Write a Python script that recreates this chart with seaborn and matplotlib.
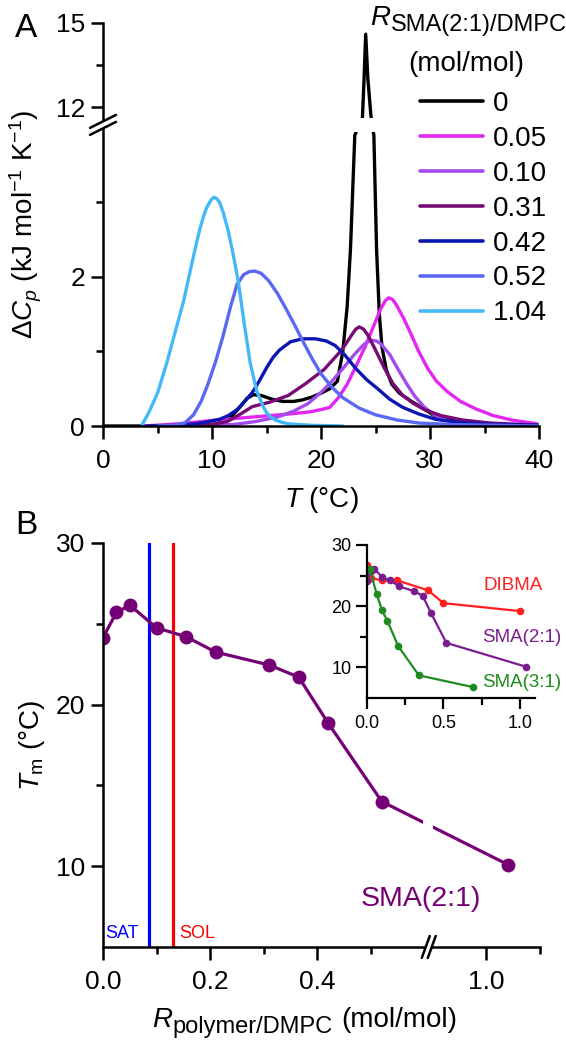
import numpy as np
import matplotlib
matplotlib.use('Agg')
import matplotlib.pyplot as plt
import seaborn as sns
from matplotlib.lines import Line2D
from matplotlib.patches import Polygon
from matplotlib.transforms import IdentityTransform
from matplotlib.ticker import FixedLocator

# Style: plain ticks, black axes, Arial-like font
sns.set_style('ticks', rc={'axes.edgecolor': 'black', 'xtick.color': 'black',
                           'ytick.color': 'black', 'text.color': 'black',
                           'axes.labelcolor': 'black'})
plt.rcParams['font.family'] = ['Liberation Sans', 'DejaVu Sans']
plt.rcParams.update({
    'mathtext.fontset': 'custom',
    'mathtext.rm': 'Liberation Sans',
    'mathtext.it': 'Liberation Sans:italic',
    'mathtext.bf': 'Liberation Sans:bold',
    'mathtext.sf': 'Liberation Sans',
    'lines.solid_joinstyle': 'round',
})

# ---------------- Panel A: DSC thermograms ----------------
dsc_labels = ['0', '0.05', '0.10', '0.31', '0.42', '0.52', '1.04']
dsc_colors = ['#000000', '#e326f2', '#a24cef', '#780a76', '#0a16b2', '#5a68f4', '#45b9f8']

T_r000 = [0, 9.5, 10.7, 11.8, 12.6, 13.2, 13.8, 14.5, 15.5, 16.5, 17.5, 18.3, 19.2, 20.0,
          20.8, 21.5, 22.0, 22.4, 22.7, 23.1, 23.5, 23.8, 23.95, 24.1, 24.3, 24.6, 24.75,
          24.85, 25.1, 25.35, 25.6, 26.0, 26.5, 27.2, 28.2, 29.2, 30.5, 32.5, 35.0, 40.0]
cp_r000 = [0, 0.0, 0.04, 0.13, 0.26, 0.37, 0.42, 0.41, 0.36, 0.33, 0.33, 0.35, 0.39, 0.44,
           0.50, 0.60, 1.0, 1.6, 2.36, 3.9, 8.0, 11.6, 13.0, 14.6, 13.0, 11.6, 6.0,
           3.9, 2.36, 1.5, 1.05, 0.75, 0.56, 0.44, 0.34, 0.25, 0.13, 0.06, 0.02, 0.01]

T_r005 = [3.8, 7.0, 10.4, 13.7, 17.0, 19.0, 20.0, 20.8, 21.6, 22.4, 23.2, 24.0, 24.8, 25.5,
          25.9, 26.2, 26.55, 26.9, 27.6, 28.3, 29.0, 29.8, 30.6, 31.6, 32.8, 34.2, 35.8,
          37.5, 39.8]
cp_r005 = [0.0, 0.03, 0.08, 0.12, 0.16, 0.19, 0.22, 0.25, 0.38, 0.56, 0.80, 1.05, 1.33, 1.58,
           1.68, 1.72, 1.70, 1.63, 1.44, 1.22, 0.99, 0.77, 0.60, 0.46, 0.33, 0.23, 0.14,
           0.08, 0.03]

T_r010 = [5.0, 9.0, 12.0, 14.0, 16.0, 17.5, 18.8, 20.0, 21.0, 22.0, 23.0, 23.9, 24.3, 24.7,
          25.1, 25.5, 26.3, 27.0, 27.8, 28.6, 29.5, 30.5, 31.8, 33.5, 36.0, 40.0]
cp_r010 = [0.0, 0.01, 0.02, 0.06, 0.12, 0.20, 0.30, 0.45, 0.60, 0.77, 0.95, 1.09, 1.13, 1.15,
           1.14, 1.10, 0.96, 0.78, 0.58, 0.40, 0.25, 0.14, 0.06, 0.02, 0.01, 0.0]

T_r031 = [5.0, 9.0, 10.4, 11.4, 12.5, 13.7, 15.3, 17.0, 18.6, 20.3, 21.9, 22.9, 23.2, 23.5,
          23.9, 24.3, 25.0, 25.8, 26.6, 27.5, 28.5, 29.5, 31.0, 33.0, 35.5, 38.5, 40.0]
cp_r031 = [0.0, 0.01, 0.03, 0.06, 0.15, 0.26, 0.32, 0.41, 0.57, 0.76, 1.02, 1.24, 1.30, 1.33,
           1.30, 1.22, 1.02, 0.78, 0.57, 0.41, 0.30, 0.22, 0.14, 0.08, 0.04, 0.02, 0.01]

T_r042 = [4.0, 7.0, 9.0, 10.7, 11.5, 12.3, 13.0, 13.7, 14.4, 15.0, 15.6, 16.2, 17.2, 18.3,
          19.5, 20.5, 21.3, 22.2, 23.2, 24.2, 25.2, 26.3, 27.5, 29.0, 30.5, 33.0, 36.0, 40.0]
cp_r042 = [0.0, 0.01, 0.04, 0.09, 0.14, 0.22, 0.33, 0.45, 0.62, 0.78, 0.92, 1.02, 1.13, 1.17,
           1.17, 1.14, 1.08, 0.95, 0.77, 0.62, 0.50, 0.36, 0.25, 0.16, 0.09, 0.04, 0.02, 0.01]

T_r052 = [5.0, 6.5, 7.5, 8.3, 9.0, 9.6, 10.3, 11.0, 11.7, 12.3, 12.9, 13.4, 13.9, 14.5, 15.2,
          16.0, 16.8, 17.6, 18.4, 19.2, 20.0, 21.0, 22.0, 23.5, 25.0, 27.0, 29.0, 32.0, 36.0, 40.0]
cp_r052 = [0.0, 0.01, 0.04, 0.15, 0.33, 0.55, 0.85, 1.20, 1.60, 1.90, 2.03, 2.07, 2.08, 2.05,
           1.95, 1.78, 1.57, 1.35, 1.12, 0.90, 0.70, 0.52, 0.38, 0.24, 0.15, 0.08, 0.04, 0.02, 0.01, 0.0]

T_r104 = [3.6, 4.2, 5.0, 5.8, 6.6, 7.4, 8.0, 8.6, 8.9, 9.2, 9.45, 9.7, 9.95, 10.2, 10.45,
          10.7, 11.0, 11.45, 11.95, 12.45, 12.95, 13.5, 14.1, 14.7, 15.0, 15.4, 15.8, 16.4,
          17.0, 19.0, 22.0]
cp_r104 = [0.02, 0.18, 0.44, 0.82, 1.25, 1.68, 2.08, 2.47, 2.65, 2.80, 2.91, 2.98, 3.04, 3.07,
           3.05, 3.00, 2.88, 2.64, 2.30, 1.90, 1.38, 0.85, 0.47, 0.26, 0.18, 0.12, 0.08, 0.05,
           0.03, 0.01, 0.0]

dsc_T = [T_r000, T_r005, T_r010, T_r031, T_r042, T_r052, T_r104]
dsc_cp = [cp_r000, cp_r005, cp_r010, cp_r031, cp_r042, cp_r052, cp_r104]

# ---------------- Panel B: transition temperatures ----------------
R_sma21 = [0.0, 0.025, 0.05, 0.10, 0.155, 0.21, 0.31, 0.365, 0.42, 0.52, 1.04]
Tm_sma21 = [24.15, 25.7, 26.15, 24.75, 24.2, 23.25, 22.45, 21.7, 18.85, 14.0, 10.1]

R_dibma = [0.0, 0.03, 0.10, 0.20, 0.40, 0.50, 1.00]
Tm_dibma = [26.8, 24.6, 24.2, 24.2, 22.6, 20.5, 19.2]

R_sma31 = [0.02, 0.065, 0.10, 0.135, 0.205, 0.34, 0.69]
Tm_sma31 = [26.0, 22.0, 19.3, 17.6, 13.5, 8.7, 6.8]

R_sat = 0.086
R_sol = 0.131

FS_TICK = 19
FS_LABEL = 20


def broken_scale(x_in, x_out):
    """Piecewise-linear forward/inverse pair for an axis with a break."""
    def forward(v):
        return np.interp(v, x_in, x_out)

    def inverse(v):
        return np.interp(v, x_out, x_in)
    return forward, inverse


def style_axis(ax, lw=1.8, major=9, minor=5, size=FS_TICK, xpad=7.5, ypad=4):
    sns.despine(ax=ax)
    for s in ['left', 'bottom']:
        ax.spines[s].set_linewidth(lw)
    ax.tick_params(which='major', length=major, width=lw, labelsize=size, direction='out')
    ax.tick_params(which='minor', length=minor, width=lw, direction='out')
    ax.tick_params(axis='x', which='major', pad=xpad)
    ax.tick_params(axis='y', which='major', pad=ypad)


def draw_break(fig, center, half, sep, lw=1.8):
    """Two parallel slanted strokes (display px) with white between them."""
    c = np.asarray(center, float)
    h = np.asarray(half, float)
    s = np.asarray(sep, float) / 2
    poly = Polygon([c - s - h, c - s + h, c + s + h, c + s - h], closed=True,
                   facecolor='white', edgecolor='none', transform=IdentityTransform(),
                   zorder=10)
    fig.add_artist(poly)
    for sign in (-1, 1):
        p0 = c + sign * s - h
        p1 = c + sign * s + h
        fig.add_artist(Line2D([p0[0], p1[0]], [p0[1], p1[1]], color='black', lw=lw,
                              transform=IdentityTransform(), zorder=11))


fig = plt.figure(figsize=(5.66, 10.4), dpi=100)

# ---- Panel A ----
ax_a = fig.add_axes([103 / 566, 1 - 426 / 1040, 436 / 566, 403 / 1040])
fwd_a, inv_a = broken_scale([-50, 3.95, 11.6, 50], [-50, 3.95, 4.13, 4.13 + 38.4 * 0.3758])
ax_a.set_yscale('function', functions=(fwd_a, inv_a))

for T, cp, lab, col in zip(dsc_T, dsc_cp, dsc_labels, dsc_colors):
    sns.lineplot(x=T, y=cp, ax=ax_a, color=col, linewidth=2.4, label=lab,
                 sort=False, estimator=None)

ax_a.set_xlim(0, 40)
ax_a.set_ylim(0, 15)
ax_a.xaxis.set_major_locator(FixedLocator([0, 10, 20, 30, 40]))
ax_a.xaxis.set_minor_locator(FixedLocator([5, 15, 25, 35]))
ax_a.yaxis.set_major_locator(FixedLocator([0, 2, 12, 15]))
ax_a.yaxis.set_minor_locator(FixedLocator([1, 3, 13.5]))
ax_a.yaxis.set_major_formatter(plt.FuncFormatter(lambda v, p: f'{v:g}'))
style_axis(ax_a)
ax_a.set_xlabel(r'$T$ (°C)', fontsize=FS_LABEL, labelpad=9)
ax_a.set_ylabel(r'$\Delta C_p$ (kJ mol$^{-1}$ K$^{-1}$)', fontsize=FS_LABEL, labelpad=8)

# white band hides the curve inside the axis break
ax_a.axhspan(4.0, 11.55, color='white', lw=0, zorder=2.2)

leg = ax_a.legend(loc='upper left', bbox_to_anchor=(420 / 566, 1 - 91 / 1040),
                  bbox_transform=fig.transFigure, frameon=False, fontsize=20,
                  handlelength=2.27, handletextpad=0.36, labelspacing=0.32,
                  borderpad=0, borderaxespad=0)
for h in leg.get_lines():
    h.set_linewidth(2.6)

# legend title built from pieces so the subscript can be large
t_r = fig.text(370 / 566, 1 - 25 / 1040, 'R', fontsize=20, style='italic',
               ha='left', va='baseline')
ax_a.annotate('SMA(2:1)/DMPC', xy=(1, 0), xycoords=t_r, xytext=(0.5, 0),
              textcoords='offset points', fontsize=17, ha='left', va='baseline',
              annotation_clip=False)
fig.text(466 / 566, 1 - 71 / 1040, '(mol/mol)', fontsize=20, ha='center', va='baseline')

fig.text(15 / 566, 1 - 37 / 1040, 'A', fontsize=24, ha='left', va='baseline')

# ---- Panel B ----
ax_b = fig.add_axes([103 / 566, 1 - 947 / 1040, 437 / 566, 404 / 1040])
fwd_b, inv_b = broken_scale([-5, 0.6, 0.9, 5], [-5, 0.6, 0.615, 4.715])
ax_b.set_xscale('function', functions=(fwd_b, inv_b))

ax_b.axvline(R_sat, color='#0000ff', lw=2.3, zorder=1.5)
ax_b.axvline(R_sol, color='#ff0000', lw=2.3, zorder=1.5)
sns.lineplot(x=R_sma21, y=Tm_sma21, ax=ax_b, color='#750075', linewidth=2.3,
             marker='o', markersize=10, markeredgewidth=0, sort=False, estimator=None)

ax_b.set_xlim(0, 1.1)
ax_b.set_ylim(5, 30)
ax_b.xaxis.set_major_locator(FixedLocator([0, 0.2, 0.4, 1.0]))
ax_b.xaxis.set_minor_locator(FixedLocator([0.1, 0.3, 0.5, 1.1]))
ax_b.xaxis.set_major_formatter(plt.FuncFormatter(lambda v, p: f'{v:.1f}'))
ax_b.yaxis.set_major_locator(FixedLocator([10, 20, 30]))
ax_b.yaxis.set_minor_locator(FixedLocator([15, 25]))
style_axis(ax_b)
ax_b.set_ylabel(r'$T_{\mathrm{m}}$ (°C)', fontsize=FS_LABEL, labelpad=6)
ax_b.set_xlabel('')

# gap in the data line across the x break
ax_b.axvspan(0.596, 0.9005, ymin=0.2, ymax=0.4, color='white', lw=0, zorder=2.2)

ax_b.text(0.004, 5.84, 'SAT', color='#0000ff', fontsize=13, ha='left', va='center')
ax_b.text(0.142, 5.84, 'SOL', color='#ff0000', fontsize=13, ha='left', va='center')
ax_b.text(0.481, 7.95, 'SMA(2:1)', color='#750075', fontsize=20.5, ha='left', va='center')

# x label: R with a large subscript
t_rb = fig.text(152 / 566, 1 - 1027 / 1040, 'R', fontsize=20, style='italic',
                ha='left', va='baseline')
t_sub = ax_b.annotate('polymer/DMPC', xy=(1, 0), xycoords=t_rb, xytext=(0.5, 0),
                      textcoords='offset points', fontsize=17, ha='left', va='baseline',
                      annotation_clip=False)
ax_b.annotate('(mol/mol)', xy=(1, 0), xycoords=(t_sub, t_rb), xytext=(6, 4.2),
              textcoords='offset points', fontsize=20, ha='left', va='baseline',
              annotation_clip=False)

fig.text(15 / 566, 1 - 534 / 1040, 'B', fontsize=24, ha='left', va='baseline')

# ---- inset ----
ax_in = fig.add_axes([366.7 / 566, 1 - 698 / 1040, 168.7 / 566, 153 / 1040])
for R, Tm, col in [(R_dibma, Tm_dibma, '#ff1f1f'), (R_sma21, Tm_sma21, '#7a1d8e'),
                   (R_sma31, Tm_sma31, '#1e8c1e')]:
    sns.lineplot(x=R, y=Tm, ax=ax_in, color=col, linewidth=1.6, marker='o',
                 markersize=5.5, markeredgewidth=0, sort=False, estimator=None)
ax_in.set_xlim(0, 1.1)
ax_in.set_ylim(5, 30)
ax_in.xaxis.set_major_locator(FixedLocator([0, 0.5, 1.0]))
ax_in.xaxis.set_minor_locator(FixedLocator([0.25, 0.75]))
ax_in.xaxis.set_major_formatter(plt.FuncFormatter(lambda v, p: f'{v:.1f}'))
ax_in.yaxis.set_major_locator(FixedLocator([10, 20, 30]))
ax_in.yaxis.set_minor_locator(FixedLocator([15, 25]))
style_axis(ax_in, lw=1.6, major=8, minor=5, size=13, xpad=4, ypad=3)
ax_in.text(0.76, 23.4, 'DIBMA', color='#ff1f1f', fontsize=13.5, ha='left', va='center',
           clip_on=False)
ax_in.text(0.75, 14.9, 'SMA(2:1)', color='#7a1d8e', fontsize=13.5, ha='left', va='center',
           clip_on=False)
ax_in.text(0.75, 7.5, 'SMA(3:1)', color='#1e8c1e', fontsize=13.5, ha='left', va='center',
           clip_on=False)

# axis break marks
draw_break(fig, ax_a.transData.transform((0, 7.8)), (13, 6.5), (0, 7))
draw_break(fig, ax_b.transData.transform((0.75, 5)), (4, 11), (6, 0))

fig.savefig('out.png', dpi=100)
